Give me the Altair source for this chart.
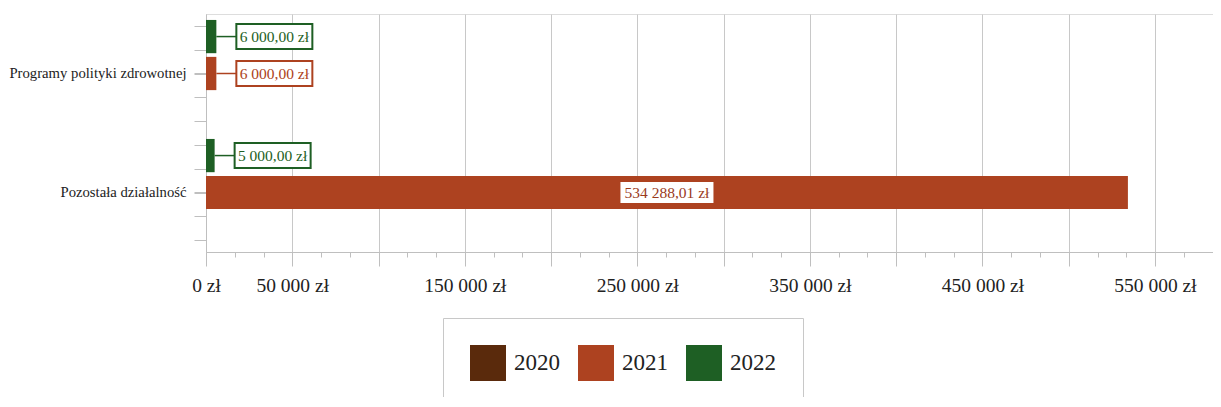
import altair as alt
import pandas as pd

categories = ["Programy polityki zdrowotnej", "Pozostała działalność"]
years = ["2020", "2021", "2022"]
values_2020 = [0, 0]
values_2021 = [6000, 534288.01]
values_2022 = [6000, 5000]
colors = ["#5a2a0c", "#ad4220", "#1e5f24"]

rows = []
for yr, vals in zip(years, [values_2020, values_2021, values_2022]):
    for c, v in zip(categories, vals):
        rows.append({"category": c, "year": yr, "value": v})
df = pd.DataFrame(rows)

FONT = "Liberation Serif"
XMAX = 583600
major_test = "round(datum.value) % 50000 === 0"
tick_vals = [round(i * 50000 / 3, 4) for i in range(36)]
label_expr = ("(datum.value === 0 || round(datum.value) % 100000 === 50000) ? "
              "replace(format(datum.value, ',d'), ',', ' ') + ' zł' : ''")

x_axis = alt.Axis(
    values=tick_vals, tickCount=200, labelExpr=label_expr, labelOverlap=False,
    labelFlush=False, title=None, labelFont=FONT, labelFontSize=19.5,
    labelColor="#222222", labelPadding=10, domainColor="#bfbfbf",
    tickColor="#bfbfbf", gridColor="#c8c8c8",
    tickSize={"condition": {"test": major_test, "value": 14}, "value": 5},
    gridOpacity={"condition": {"test": major_test, "value": 1}, "value": 0},
)
x_scale = alt.Scale(domain=[0, XMAX], nice=False, zero=True)
y_axis = alt.Axis(title=None, labelFont=FONT, labelFontSize=14.7, labelColor="#222222",
                  tickSize=12, tickColor="#bfbfbf", domainColor="#bfbfbf",
                  labelPadding=8, grid=False)
y_scale = alt.Scale(paddingInner=0.1, paddingOuter=0.05)
yoff = alt.YOffset("year:N", sort=["2022", "2021", "2020"], scale=alt.Scale(paddingInner=0.1))
color_scale = alt.Scale(domain=years, range=colors)

def Y():
    return alt.Y("category:N", sort=categories, scale=y_scale, axis=y_axis)

label_calc = "replace(replace(format(datum.value, ',.2f'), ',', ' '), '.', ',') + ' zł'"
base = alt.Chart(df)

bars = base.mark_bar().encode(
    x=alt.X("value:Q", scale=x_scale, axis=x_axis), y=Y(), yOffset=yoff,
    color=alt.Color("year:N", scale=color_scale, title=None,
                    legend=alt.Legend(orient="none", legendX=237, legendY=304,
                                      direction="horizontal", columns=3,
                                      symbolType="square", symbolSize=1296,
                                      symbolStrokeWidth=0, symbolOpacity=1,
                                      labelFont=FONT, labelFontSize=23,
                                      labelColor="#222222", labelOffset=8,
                                      columnPadding=18, padding=27,
                                      strokeColor="#c8c8c8")),
)

small = base.transform_filter("datum.value > 0 && datum.value < 100000").transform_calculate(label=label_calc)
big = base.transform_filter("datum.value >= 100000").transform_calculate(label=label_calc, mid="datum.value / 2")

leaders = small.mark_rule(strokeWidth=1.5, x2Offset=20).encode(
    x=alt.X("value:Q", scale=x_scale, axis=x_axis), x2="value:Q", y=Y(), yOffset=yoff,
    stroke=alt.Stroke("year:N", scale=color_scale, legend=None),
)
box_path = "M-1,-0.329 L1,-0.329 L1,0.329 L-1,0.329 Z"
boxes = small.mark_point(shape=box_path, size=5776, filled=True, fill="white",
                         strokeWidth=2, opacity=1, xOffset=58).encode(
    x=alt.X("value:Q", scale=x_scale, axis=x_axis), y=Y(), yOffset=yoff,
    stroke=alt.Stroke("year:N", scale=color_scale, legend=None),
)
texts = small.mark_text(font=FONT, fontSize=15.5, dx=58, align="center", baseline="middle").encode(
    x=alt.X("value:Q", scale=x_scale, axis=x_axis), y=Y(), yOffset=yoff, text="label:N",
    color=alt.Color("year:N", scale=color_scale, legend=None),
)
big_path = "M-1,-0.226 L1,-0.226 L1,0.226 L-1,0.226 Z"
big_box = big.mark_point(shape=big_path, size=8649, filled=True, fill="white",
                         strokeWidth=0, opacity=1).encode(
    x=alt.X("mid:Q", scale=x_scale, axis=x_axis), y=Y(), yOffset=yoff,
)
big_text = big.mark_text(font=FONT, fontSize=15.5, align="center", baseline="middle",
                         color="#9a3a1c").encode(
    x=alt.X("mid:Q", scale=x_scale, axis=x_axis), y=Y(), yOffset=yoff, text="label:N",
)

main = alt.layer(bars, leaders, boxes, texts, big_box, big_text).resolve_legend(
    color="independent", stroke="independent")

tick_df = pd.DataFrame({"t": [0.5]})
ytick_layer = alt.Chart(tick_df).mark_point(opacity=0).encode(
    y=alt.Y("t:Q", scale=alt.Scale(domain=[0, 10], nice=False, zero=False),
            axis=alt.Axis(values=[0.5 + i for i in range(10)], tickCount=50, labels=False,
                          domain=False, grid=False, tickSize=12, tickColor="#bfbfbf",
                          title=None, orient="left")),
)

chart = alt.layer(main, ytick_layer).resolve_scale(y="independent").properties(
    width=1007, height=238,
    autosize=alt.AutoSizeParams(type="none"),
    padding={"left": 198, "top": 6, "right": 0, "bottom": 145},
).configure_view(stroke="#d9d9d9", strokeWidth=2).configure(
    background="white"
).configure_legend(labelFont=FONT).configure_axis(labelFont=FONT)

chart.save("out.html", embed_options={"renderer": "svg", "actions": False})
